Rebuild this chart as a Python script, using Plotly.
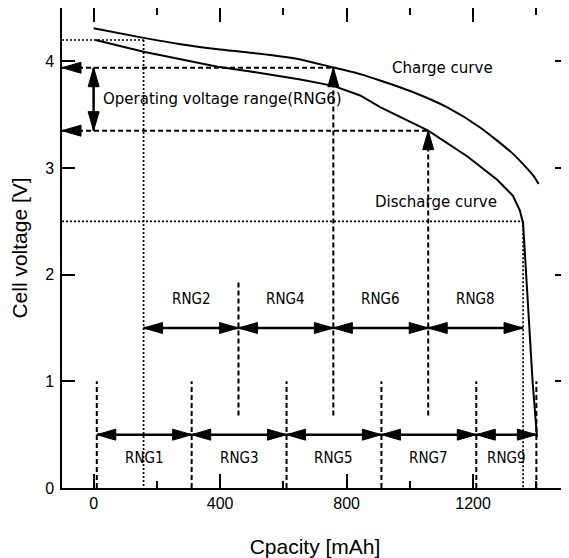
import plotly.graph_objects as go

# ---------------- data ----------------
charge_cap = [0, 158, 275, 400, 559, 650, 748, 843, 906, 1011, 1117, 1222, 1327, 1390, 1407]
charge_v = [4.31, 4.22, 4.16, 4.11, 4.06, 4.02, 3.95, 3.88, 3.82, 3.71, 3.57, 3.38, 3.13, 2.93, 2.85]

discharge_cap = [6, 158, 275, 392, 485, 590, 654, 758, 843, 906, 1058, 1181, 1276, 1326,
                 1348, 1358, 1368, 1378, 1388, 1402]
discharge_v = [4.20, 4.09, 4.02, 3.95, 3.91, 3.86, 3.83, 3.77, 3.68, 3.57, 3.35, 3.11, 2.89, 2.74,
               2.60, 2.48, 2.00, 1.50, 1.00, 0.48]

odd_bounds = [10, 310, 610, 910, 1210, 1400]
odd_labels = ["RNG1", "RNG3", "RNG5", "RNG7", "RNG9"]
even_bounds = [158, 458, 758, 1058, 1358]
even_labels = ["RNG2", "RNG4", "RNG6", "RNG8"]

odd_arrow_v = 0.5
odd_label_v = 0.28
odd_guide_top = 1.0
even_arrow_v = 1.5
even_label_v = 1.77
even_guide_bottom = 0.68
even_guide_top_458 = 1.95

v_full = 4.2       # full charge level
v_cut = 2.5        # cut-off level
v_op_high = 3.94   # operating range upper
v_op_low = 3.35    # operating range lower
op_arrow_cap = 0

x_ticks = [0, 400, 800, 1200]
y_ticks = [0, 1, 2, 3, 4]

# ---------------- layout constants ----------------
# the page body has an 8px default margin, so the figure is 8px smaller
W, H = 561, 550
ML, MR, MT, MB = 54, 1, 0, 70
X_RANGE = [-100, 1500]
Y_RANGE = [0, 4.5]
PX_X = (W - ML - MR) / (X_RANGE[1] - X_RANGE[0])
PX_Y = (H - MT - MB) / (Y_RANGE[1] - Y_RANGE[0])
HEAD_LEN, HEAD_W = 19, 11

BLACK = "#000000"
DASH = "5px,3px"
DOT = "2px,2px"


def head(xt, yt, direction):
    if direction in ("left", "right"):
        s = 1 if direction == "left" else -1
        bx = xt + s * HEAD_LEN / PX_X
        dy = HEAD_W / 2 / PX_Y
        return [xt, bx, bx, xt, None], [yt, yt + dy, yt - dy, yt, None]
    s = -1 if direction == "up" else 1
    by = yt + s * HEAD_LEN / PX_Y
    dx = HEAD_W / 2 / PX_X
    return [xt, xt + dx, xt - dx, xt, None], [yt, by, by, yt, None]


hx, hy = [], []


def add_head(xt, yt, d):
    a, b = head(xt, yt, d)
    hx.extend(a)
    hy.extend(b)


fig = go.Figure()


def add_lines(xs, ys, width, dash=None):
    fig.add_trace(go.Scatter(x=xs, y=ys, mode="lines", hoverinfo="skip", showlegend=False,
                             line=dict(color=BLACK, width=width, dash=dash)))


# curves
fig.add_trace(go.Scatter(x=charge_cap, y=charge_v, mode="lines", name="Charge curve",
                         showlegend=False, line=dict(color=BLACK, width=2, shape="spline", smoothing=0.6)))
fig.add_trace(go.Scatter(x=discharge_cap, y=discharge_v, mode="lines", name="Discharge curve",
                         showlegend=False, line=dict(color=BLACK, width=2)))

# dotted guides (full range)
dx_, dy_ = [], []
dx_ += [X_RANGE[0], even_bounds[0], None, even_bounds[0], even_bounds[0], None]
dy_ += [v_full, v_full, None, v_full, 0, None]
dx_ += [X_RANGE[0], even_bounds[-1], None, even_bounds[-1], even_bounds[-1], None]
dy_ += [v_cut, v_cut, None, v_cut, 0, None]
add_lines(dx_, dy_, 1.7, DOT)

# dashed guides
gx, gy = [], []
for b in odd_bounds:
    gx += [b, b, None]
    gy += [0, odd_guide_top, None]
gx += [even_bounds[1], even_bounds[1], None]
gy += [even_guide_bottom, even_guide_top_458, None]
gx += [even_bounds[2], even_bounds[2], None, even_bounds[3], even_bounds[3], None]
gy += [even_guide_bottom, v_op_high, None, even_guide_bottom, v_op_low, None]
gx += [X_RANGE[0], even_bounds[2], None, X_RANGE[0], even_bounds[3], None]
gy += [v_op_high, v_op_high, None, v_op_low, v_op_low, None]
add_lines(gx, gy, 2, DASH)

add_head(even_bounds[2], v_op_high, "up")
add_head(even_bounds[3], v_op_low, "up")
add_head(X_RANGE[0], v_op_high, "left")
add_head(X_RANGE[0], v_op_low, "left")

# solid double arrows
sx, sy = [], []
for a, b in zip(odd_bounds[:-1], odd_bounds[1:]):
    sx += [a, b, None]
    sy += [odd_arrow_v, odd_arrow_v, None]
    add_head(a, odd_arrow_v, "left")
    add_head(b, odd_arrow_v, "right")
for a, b in zip(even_bounds[:-1], even_bounds[1:]):
    sx += [a, b, None]
    sy += [even_arrow_v, even_arrow_v, None]
    add_head(a, even_arrow_v, "left")
    add_head(b, even_arrow_v, "right")
sx += [op_arrow_cap, op_arrow_cap, None]
sy += [v_op_low, v_op_high, None]
add_head(op_arrow_cap, v_op_high, "up")
add_head(op_arrow_cap, v_op_low, "down")
add_lines(sx, sy, 2.5)

fig.add_trace(go.Scatter(x=hx, y=hy, mode="lines", fill="toself", fillcolor=BLACK,
                         hoverinfo="skip", showlegend=False, line=dict(color=BLACK, width=1)))

# labels
RNG_FONT = dict(family="Liberation Sans Narrow, Arial Narrow, DejaVu Sans Condensed, Liberation Sans",
                size=15, color=BLACK)
TXT_FONT = dict(family="DejaVu Sans", size=15, color=BLACK)
ann = []
for a, b, t in zip(odd_bounds[:-1], odd_bounds[1:], odd_labels):
    ann.append(dict(x=(a + b) / 2, y=odd_label_v, text=t, showarrow=False, font=RNG_FONT))
for a, b, t in zip(even_bounds[:-1], even_bounds[1:], even_labels):
    ann.append(dict(x=(a + b) / 2, y=even_label_v, text=t, showarrow=False, font=RNG_FONT))
ann.append(dict(x=22, y=3.65, text="Operating voltage range(RNG6)", showarrow=False,
                xanchor="left", font=TXT_FONT))
ann.append(dict(x=1103, y=3.94, text="Charge curve", showarrow=False, font=TXT_FONT))
ann.append(dict(x=1082, y=2.68, text="Discharge curve", showarrow=False, font=TXT_FONT))

AX_FONT = dict(family="Liberation Sans, Arial", size=16, color=BLACK)
fig.update_layout(
    width=W, height=H,
    margin=dict(l=ML, r=MR, t=MT, b=MB, autoexpand=False),
    paper_bgcolor="white", plot_bgcolor="white",
    showlegend=False,
    annotations=ann,
    xaxis=dict(range=X_RANGE, tickvals=x_ticks, ticks="inside", ticklen=14, tickwidth=1.5,
               tickcolor=BLACK, showline=True, linecolor=BLACK, linewidth=1.5, mirror="ticks",
               showgrid=False, zeroline=False, tickfont=AX_FONT, automargin=False,
               minor=dict(dtick=200, tick0=0, ticks="inside", ticklen=7, tickwidth=1.5,
                          tickcolor=BLACK, showgrid=False),
               title=dict(text="Cpacity [mAh]", font=dict(family="Liberation Sans, Arial", size=21,
                                                          color=BLACK), standoff=30)),
    yaxis=dict(range=Y_RANGE, tickvals=y_ticks, ticks="inside", ticklen=13, tickwidth=1.5,
               tickcolor=BLACK, showline=True, linecolor=BLACK, linewidth=1.5, mirror="ticks",
               showgrid=False, zeroline=False, tickfont=AX_FONT, automargin=False,
               ticklabelstandoff=3,
               title=dict(text="Cell voltage [V]", font=dict(family="Liberation Sans, Arial", size=21,
                                                             color=BLACK), standoff=12)),
)

fig.write_html("out.html")
